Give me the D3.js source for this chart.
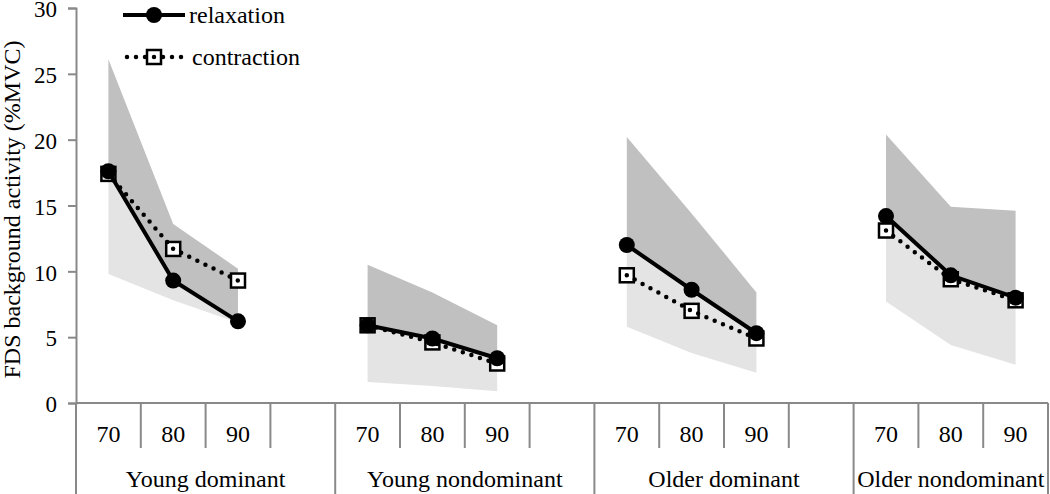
<!DOCTYPE html>
<html>
<head>
<meta charset="utf-8">
<script src="https://cdn.jsdelivr.net/npm/d3@7"></script>
<style>
  body { margin: 0; background: #fff; }
  svg { display: block; }
  svg text { font-family: "Liberation Serif", "Times New Roman", serif; }
</style>
</head>
<body>
<div id="chart"></div>
<script>
// data
const groups = ["Young dominant", "Young nondominant", "Older dominant", "Older nondominant"];
const intensities = ["70", "80", "90"];
const relaxation = [[17.6, 9.3, 6.2], [5.9, 4.9, 3.4], [12.0, 8.6, 5.3], [14.2, 9.7, 8.0]];
const contraction = [[17.4, 11.7, 9.3], [5.9, 4.6, 3.0], [9.7, 7.0, 4.9], [13.1, 9.4, 7.8]];
const upperBand = [[26.1, 13.6, 10.2], [10.5, 8.4, 5.9], [20.2, 14.4, 8.4], [20.4, 14.9, 14.6]];
const lowerBand = [[9.8, 7.8, 6.1], [1.6, 1.3, 0.9], [5.8, 3.8, 2.3], [7.7, 4.4, 2.9]];
const yTicks = [0, 5, 10, 15, 20, 25, 30];

const width = 1050;
const height = 494;
const margin = { top: 8, left: 76, right: 2, bottom: 91 };
const fontSize = '24px';

// slots: 70, 80, 90 and one empty slot between groups
const slots = [];
groups.forEach((g, gi) => {
    intensities.forEach(c => slots.push({ group: gi, key: gi + "-" + c, label: c }));
    if (gi < groups.length - 1) slots.push({ group: gi, key: gi + "-gap", label: "" });
});

const svg = d3.select('#chart')
    .append('svg')
    .attr('width', width)
    .attr('height', height);

const xScale = d3.scaleBand()
    .domain(slots.map(d => d.key))
    .range([margin.left, width - margin.right]);
const yScale = d3.scaleLinear()
    .domain([0, 30])
    .range([height - margin.bottom, margin.top]);

const xc = (gi, i) => xScale(gi + "-" + intensities[i]) + xScale.bandwidth() / 2;

// shaded bands: light = lower..relaxation, dark = relaxation..upper
const bands = svg.append('g').classed('bands', true);
groups.forEach((g, gi) => {
    const rows = intensities.map((c, i) => ({ i, lo: lowerBand[gi][i], mid: relaxation[gi][i], hi: upperBand[gi][i] }));
    bands.append('path')
        .datum(rows)
        .attr('fill', '#e4e4e4')
        .attr('d', d3.area().x(d => xc(gi, d.i)).y0(d => yScale(d.lo)).y1(d => yScale(d.mid)));
    bands.append('path')
        .datum(rows)
        .attr('fill', '#c0c0c0')
        .attr('d', d3.area().x(d => xc(gi, d.i)).y0(d => yScale(d.mid)).y1(d => yScale(d.hi)));
});

// y axis
const yAxis = d3.axisLeft(yScale)
    .tickValues(yTicks)
    .tickSize(8)
    .tickPadding(11);
const yG = svg.append('g')
    .classed('y axis', true)
    .attr('transform', `translate(${margin.left},0)`)
    .call(yAxis)
    .attr('font-family', null)
    .attr('font-size', null);
yG.select('.domain').attr('stroke', '#898989').attr('stroke-width', 2);
yG.selectAll('.tick line').attr('stroke', '#898989').attr('stroke-width', 2);
yG.selectAll('.tick text')
    .attr('fill', '#000')
    .style('font-size', '23px')
    .attr('dy', '0.38em');

svg.append('text')
    .attr('transform', `translate(20, ${(margin.top + height - margin.bottom) / 2 + 4}) rotate(-90)`)
    .attr('fill', '#000')
    .style('font-size', fontSize)
    .style('text-anchor', 'middle')
    .text('FDS background activity (%MVC)');

// x axis: baseline, separators, labels
const y0 = yScale(0);
const xG = svg.append('g').classed('x axis', true);
xG.append('line')
    .attr('x1', margin.left).attr('x2', width - margin.right)
    .attr('y1', y0).attr('y2', y0)
    .attr('stroke', '#898989').attr('stroke-width', 2);

slots.forEach((s, si) => {
    const left = xScale(s.key);
    const groupStart = si === 0 || slots[si - 1].group !== s.group;
    xG.append('line')
        .attr('x1', left).attr('x2', left)
        .attr('y1', y0).attr('y2', groupStart ? height : 448)
        .attr('stroke', '#898989').attr('stroke-width', 2);
    if (s.label) {
        xG.append('text')
            .attr('x', left + xScale.bandwidth() / 2)
            .attr('y', 442)
            .attr('fill', '#000')
            .style('font-size', fontSize)
            .style('text-anchor', 'middle')
            .text(s.label);
    }
});
xG.append('line')
    .attr('x1', width - margin.right).attr('x2', width - margin.right)
    .attr('y1', y0).attr('y2', height)
    .attr('stroke', '#898989').attr('stroke-width', 2);

groups.forEach((g, gi) => {
    const keys = slots.filter(s => s.group === gi);
    const x0 = xScale(keys[0].key);
    const x1 = xScale(keys[keys.length - 1].key) + xScale.bandwidth();
    xG.append('text')
        .attr('x', (x0 + x1) / 2)
        .attr('y', 487)
        .attr('fill', '#000')
        .style('font-size', fontSize)
        .style('text-anchor', 'middle')
        .text(g);
});

// series
const line = d3.line().x(d => d.x).y(d => d.y);
const plot = svg.append('g').classed('series', true);

groups.forEach((g, gi) => {
    const pts = contraction[gi].map((v, i) => ({ x: xc(gi, i), y: yScale(v) }));
    plot.selectAll(null)
        .data(pts)
        .enter()
        .append('rect')
        .attr('x', d => d.x - 7).attr('y', d => d.y - 7)
        .attr('width', 14).attr('height', 14)
        .attr('fill', '#fff').attr('stroke', '#000').attr('stroke-width', 2.5);
    plot.append('path')
        .datum(pts)
        .attr('d', line)
        .attr('fill', 'none')
        .attr('stroke', '#000')
        .attr('stroke-width', 4.5)
        .attr('stroke-linecap', 'round')
        .attr('stroke-dasharray', '0,9');
});

groups.forEach((g, gi) => {
    const pts = relaxation[gi].map((v, i) => ({ x: xc(gi, i), y: yScale(v) }));
    plot.append('path')
        .datum(pts)
        .attr('d', line)
        .attr('fill', 'none')
        .attr('stroke', '#000')
        .attr('stroke-width', 4);
    plot.selectAll(null)
        .data(pts)
        .enter()
        .append('circle')
        .attr('cx', d => d.x).attr('cy', d => d.y)
        .attr('r', 8)
        .attr('fill', '#000');
});

// legend
const legend = svg.append('g').classed('legend', true);
legend.append('line')
    .attr('x1', 123).attr('x2', 185).attr('y1', 15).attr('y2', 15)
    .attr('stroke', '#000').attr('stroke-width', 4);
legend.append('circle')
    .attr('cx', 154).attr('cy', 15).attr('r', 8).attr('fill', '#000');
legend.append('text')
    .attr('x', 189).attr('y', 23)
    .attr('fill', '#000').style('font-size', fontSize)
    .text('relaxation');

legend.append('rect')
    .attr('x', 147).attr('y', 50).attr('width', 14).attr('height', 14)
    .attr('fill', '#fff').attr('stroke', '#000').attr('stroke-width', 2.5);
legend.append('line')
    .attr('x1', 127).attr('x2', 182).attr('y1', 57).attr('y2', 57)
    .attr('stroke', '#000').attr('stroke-width', 4.5)
    .attr('stroke-linecap', 'round')
    .attr('stroke-dasharray', '0,9');
legend.append('text')
    .attr('x', 192).attr('y', 65)
    .attr('fill', '#000').style('font-size', fontSize)
    .text('contraction');
</script>
</body>
</html>
